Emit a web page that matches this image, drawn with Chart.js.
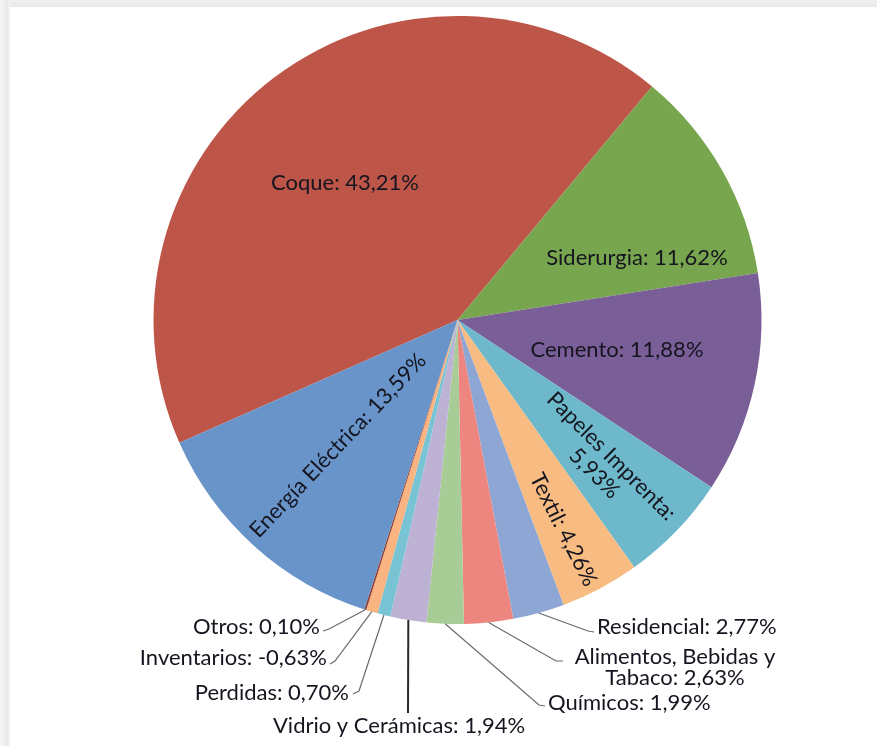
<!DOCTYPE html>
<html>
<head>
<meta charset="utf-8">
<title>Consumo por sector</title>
<script src="https://cdn.jsdelivr.net/npm/chart.js@4.4.1/dist/chart.umd.min.js"></script>
<style>
  html, body { margin: 0; padding: 0; background: #fff; }
  #marco { position: relative; width: 877px; height: 746px; overflow: hidden; background: #fff; }
  .borde-sup { position: absolute; left: 0; top: 0; width: 877px; height: 7px; background: linear-gradient(#f1f1f1, #e8e8e8); }
  .borde-izq { position: absolute; left: 0; top: 0; width: 10px; height: 746px; background: linear-gradient(90deg, #f5f5f5, #e9e9e9 75%, #f7f7f7); }
  #grafico { position: absolute; left: 0; top: 0; }
</style>
</head>
<body>
<div id="marco">
  <div class="borde-sup"></div>
  <div class="borde-izq"></div>
  <canvas id="grafico" width="877" height="746"></canvas>
</div>
<script>
// sectores en el orden en que se dibujan (sentido horario)
const sectores = ['Coque', 'Siderurgia', 'Cemento', 'Papeles Imprenta', 'Textil', 'Residencial',
  'Alimentos, Bebidas y Tabaco', 'Químicos', 'Vidrio y Cerámicas', 'Perdidas', 'Inventarios', 'Otros',
  'Energía Eléctrica'];
const participacion = [43.21, 11.62, 11.88, 5.93, 4.26, 2.77, 2.63, 1.99, 1.94, 0.70, -0.63, 0.10, 13.59];
const colores = ['#bd5548', '#78a64e', '#7a5e98', '#6eb8cc', '#f8bc82', '#8ea6d4',
  '#ee8680', '#a8cc96', '#beb2d4', '#78c4d4', '#fab482', '#8c3c32', '#6894ca'];

const FUENTE = '22px Lato';
const TINTA = '#15151f';

// Coque termina arriba a la derecha, a ~40 grados de la vertical
const total = participacion.reduce((s, v) => s + Math.abs(v), 0);
const giro = 39.8 - Math.abs(participacion[0]) / total * 360;

const pct = v => v.toFixed(2).replace('.', ',') + '%';
const texto = (i, corte) => {
  const t = sectores[i] + ': ' + pct(participacion[i]);
  if (!corte) return [t];
  const k = t.indexOf(corte) + corte.length;
  return [t.slice(0, k).trim(), t.slice(k).trim()];
};

// etiquetas dentro de las porciones: r = fraccion del radio, da = ajuste angular
const dentro = [
  { i: 0, r: 0.583, da: -2.4, radial: false },
  { i: 1, r: 0.625, da: 10.4, radial: false },
  { i: 2, r: 0.534, da: -1.5, radial: false },
  { i: 3, r: 0.675, da: 1.0, radial: true, corte: 'Imprenta:' },
  { i: 4, r: 0.773, da: 1.2, radial: true },
  { i: 12, r: 0.57, da: 1.6, radial: true }
];

// etiquetas fuera con linea guia
const fuera = [
  { i: 5, guia: [[588, 631], [594, 632]], x: 597, y: 627, align: 'left' },
  { i: 6, guia: [[556, 661], [563, 661]], x: 675, y: 657, align: 'center', corte: 'Bebidas y' },
  { i: 7, guia: [[539, 705], [545, 706]], x: 548, y: 703, align: 'left' },
  { i: 8, guia: [[408, 713]], x: 399, y: 726, align: 'center', fuerte: true },
  { i: 9, guia: [[359, 691], [353, 694]], x: 349, y: 693, align: 'right' },
  { i: 10, guia: [[335, 661], [330, 664]], x: 327, y: 658, align: 'right' },
  { i: 11, guia: [[329, 629], [323, 631]], x: 320, y: 627, align: 'right' }
];

const etiquetas = {
  id: 'etiquetas',
  afterDatasetsDraw(chart) {
    const ctx = chart.ctx;
    const arcos = chart.getDatasetMeta(0).data;
    const alto = 24;
    ctx.save();
    ctx.font = FUENTE;
    ctx.fillStyle = TINTA;
    ctx.textBaseline = 'middle';

    dentro.forEach(d => {
      const a = arcos[d.i].getProps(['x', 'y', 'startAngle', 'endAngle', 'outerRadius'], true);
      const medio = (a.startAngle + a.endAngle) / 2 + d.da * Math.PI / 180;
      const px = a.x + Math.cos(medio) * a.outerRadius * d.r;
      const py = a.y + Math.sin(medio) * a.outerRadius * d.r;
      const lineas = texto(d.i, d.corte);
      ctx.save();
      ctx.translate(px, py);
      if (d.radial) ctx.rotate(Math.cos(medio) < 0 ? medio + Math.PI : medio);
      ctx.textAlign = 'center';
      lineas.forEach((l, k) => ctx.fillText(l, 0, (k - (lineas.length - 1) / 2) * alto));
      ctx.restore();
    });

    fuera.forEach(f => {
      const a = arcos[f.i].getProps(['x', 'y', 'startAngle', 'endAngle', 'outerRadius'], true);
      const medio = (a.startAngle + a.endAngle) / 2;
      ctx.beginPath();
      ctx.moveTo(a.x + Math.cos(medio) * a.outerRadius, a.y + Math.sin(medio) * a.outerRadius);
      f.guia.forEach(p => ctx.lineTo(p[0], p[1]));
      ctx.lineWidth = f.fuerte ? 2 : 1.2;
      ctx.strokeStyle = f.fuerte ? '#2a2a2a' : '#6a6a6a';
      ctx.stroke();
      const lineas = texto(f.i, f.corte);
      ctx.textAlign = f.align;
      lineas.forEach((l, k) => ctx.fillText(l, f.x, f.y + k * 21));
    });
    ctx.restore();
  }
};

new Chart(document.getElementById('grafico'), {
  type: 'pie',
  data: {
    labels: sectores,
    datasets: [{
      data: participacion.map(Math.abs),
      backgroundColor: colores,
      borderWidth: 0,
      hoverOffset: 0
    }]
  },
  options: {
    responsive: false,
    animation: false,
    rotation: giro,
    layout: { padding: { left: 153.5, right: 115.5, top: 16, bottom: 122 } },
    plugins: { legend: { display: false }, tooltip: { enabled: false } }
  },
  plugins: [etiquetas]
});
</script>
</body>
</html>
